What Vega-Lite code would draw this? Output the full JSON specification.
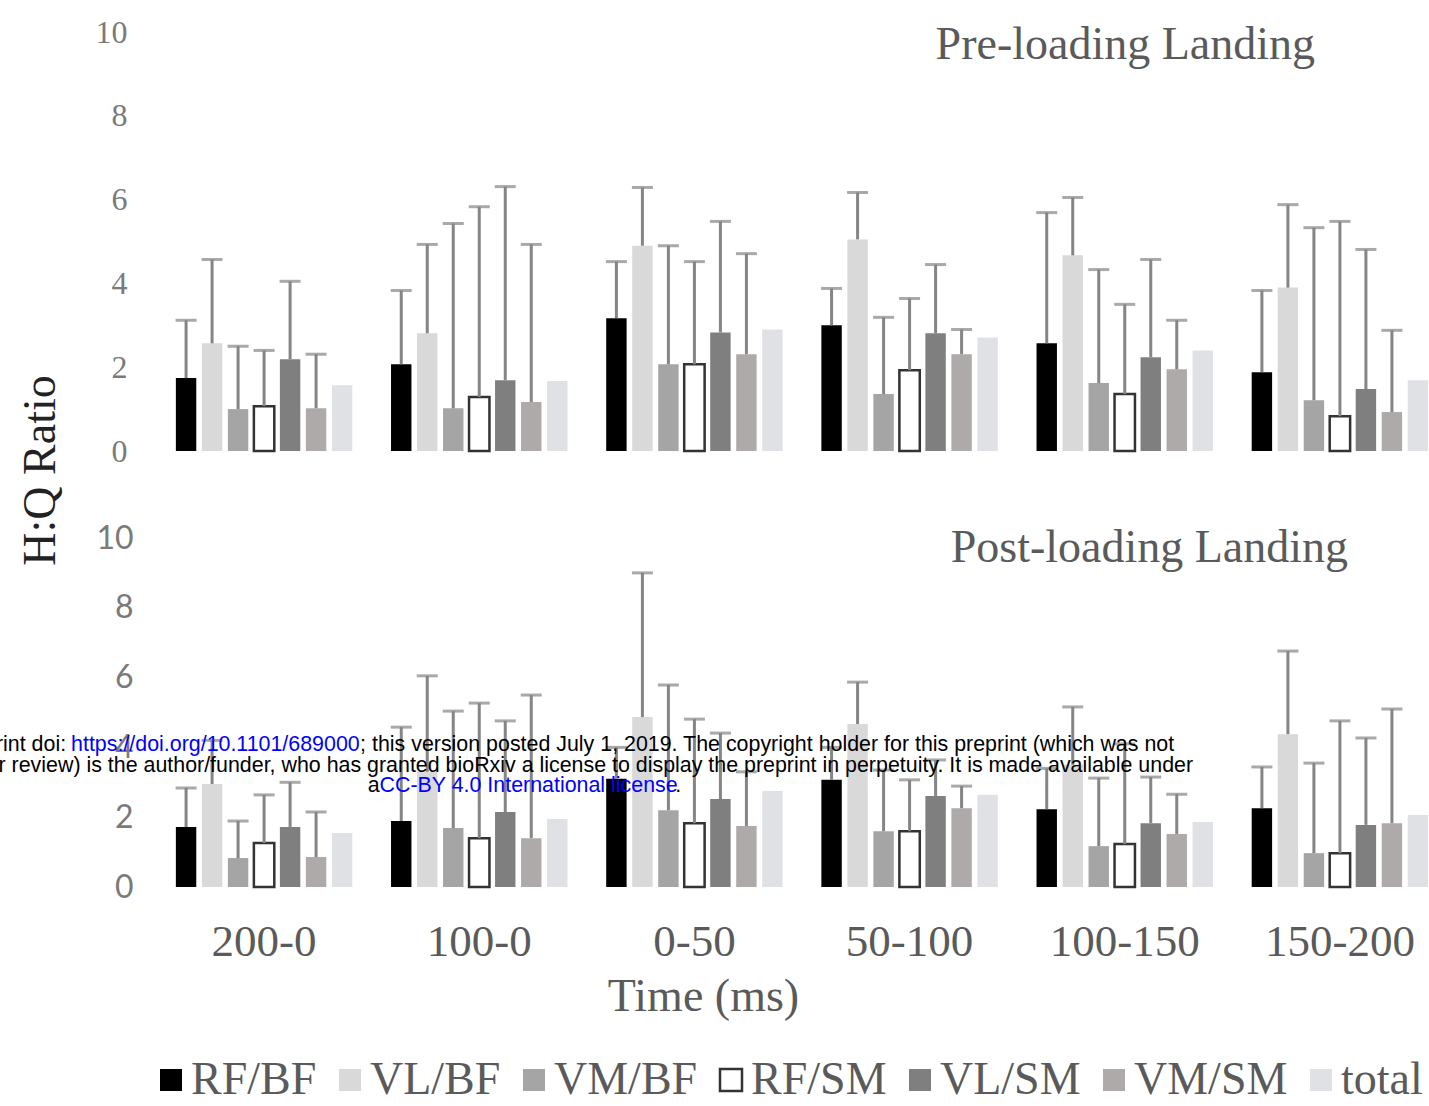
{
  "$schema": "https://vega.github.io/schema/vega-lite/v6.json",
  "autosize": {"type": "none"},
  "padding": {"left": 156.5, "top": 32, "right": 1272.5, "bottom": 1074},
  "background": "white",
  "config": {
    "view": {"stroke": null},
    "axis": {"grid": false, "domain": false, "ticks": false},
    "concat": {"spacing": 87}
  },
  "spacing": 87,
  "bounds": "flush",
  "datasets": {
    "pre": [
      {"time": "200-0", "series": "RF/BF", "value": 1.74, "err": 3.12},
      {"time": "200-0", "series": "VL/BF", "value": 2.57, "err": 4.57},
      {"time": "200-0", "series": "VM/BF", "value": 1.0, "err": 2.5},
      {"time": "200-0", "series": "RF/SM", "value": 1.07, "err": 2.4},
      {"time": "200-0", "series": "VL/SM", "value": 2.19, "err": 4.05},
      {"time": "200-0", "series": "VM/SM", "value": 1.02, "err": 2.31},
      {"time": "200-0", "series": "total", "value": 1.57, "err": null},
      {"time": "100-0", "series": "RF/BF", "value": 2.07, "err": 3.83},
      {"time": "100-0", "series": "VL/BF", "value": 2.81, "err": 4.93},
      {"time": "100-0", "series": "VM/BF", "value": 1.02, "err": 5.43},
      {"time": "100-0", "series": "RF/SM", "value": 1.29, "err": 5.83},
      {"time": "100-0", "series": "VL/SM", "value": 1.69, "err": 6.31},
      {"time": "100-0", "series": "VM/SM", "value": 1.17, "err": 4.93},
      {"time": "100-0", "series": "total", "value": 1.67, "err": null},
      {"time": "0-50", "series": "RF/BF", "value": 3.17, "err": 4.52},
      {"time": "0-50", "series": "VL/BF", "value": 4.9, "err": 6.29},
      {"time": "0-50", "series": "VM/BF", "value": 2.07, "err": 4.9},
      {"time": "0-50", "series": "RF/SM", "value": 2.07, "err": 4.52},
      {"time": "0-50", "series": "VL/SM", "value": 2.83, "err": 5.48},
      {"time": "0-50", "series": "VM/SM", "value": 2.31, "err": 4.71},
      {"time": "0-50", "series": "total", "value": 2.9, "err": null},
      {"time": "50-100", "series": "RF/BF", "value": 3.0, "err": 3.88},
      {"time": "50-100", "series": "VL/BF", "value": 5.05, "err": 6.17},
      {"time": "50-100", "series": "VM/BF", "value": 1.36, "err": 3.19},
      {"time": "50-100", "series": "RF/SM", "value": 1.93, "err": 3.64},
      {"time": "50-100", "series": "VL/SM", "value": 2.81, "err": 4.45},
      {"time": "50-100", "series": "VM/SM", "value": 2.31, "err": 2.9},
      {"time": "50-100", "series": "total", "value": 2.71, "err": null},
      {"time": "100-150", "series": "RF/BF", "value": 2.57, "err": 5.69},
      {"time": "100-150", "series": "VL/BF", "value": 4.67, "err": 6.05},
      {"time": "100-150", "series": "VM/BF", "value": 1.62, "err": 4.33},
      {"time": "100-150", "series": "RF/SM", "value": 1.36, "err": 3.5},
      {"time": "100-150", "series": "VL/SM", "value": 2.24, "err": 4.57},
      {"time": "100-150", "series": "VM/SM", "value": 1.95, "err": 3.12},
      {"time": "100-150", "series": "total", "value": 2.4, "err": null},
      {"time": "150-200", "series": "RF/BF", "value": 1.88, "err": 3.83},
      {"time": "150-200", "series": "VL/BF", "value": 3.9, "err": 5.88},
      {"time": "150-200", "series": "VM/BF", "value": 1.21, "err": 5.33},
      {"time": "150-200", "series": "RF/SM", "value": 0.83, "err": 5.48},
      {"time": "150-200", "series": "VL/SM", "value": 1.48, "err": 4.81},
      {"time": "150-200", "series": "VM/SM", "value": 0.93, "err": 2.88},
      {"time": "150-200", "series": "total", "value": 1.69, "err": null}
    ],
    "post": [
      {"time": "200-0", "series": "RF/BF", "value": 1.72, "err": 2.84},
      {"time": "200-0", "series": "VL/BF", "value": 2.95, "err": 4.2},
      {"time": "200-0", "series": "VM/BF", "value": 0.83, "err": 1.89},
      {"time": "200-0", "series": "RF/SM", "value": 1.26, "err": 2.64},
      {"time": "200-0", "series": "VL/SM", "value": 1.72, "err": 3.0},
      {"time": "200-0", "series": "VM/SM", "value": 0.86, "err": 2.15},
      {"time": "200-0", "series": "total", "value": 1.55, "err": null},
      {"time": "100-0", "series": "RF/BF", "value": 1.89, "err": 4.58},
      {"time": "100-0", "series": "VL/BF", "value": 3.3, "err": 6.05},
      {"time": "100-0", "series": "VM/BF", "value": 1.69, "err": 5.04},
      {"time": "100-0", "series": "RF/SM", "value": 1.4, "err": 5.27},
      {"time": "100-0", "series": "VL/SM", "value": 2.15, "err": 4.76},
      {"time": "100-0", "series": "VM/SM", "value": 1.4, "err": 5.5},
      {"time": "100-0", "series": "total", "value": 1.95, "err": null},
      {"time": "0-50", "series": "RF/BF", "value": 3.1, "err": 4.0},
      {"time": "0-50", "series": "VL/BF", "value": 4.87, "err": 9.0},
      {"time": "0-50", "series": "VM/BF", "value": 2.2, "err": 5.79},
      {"time": "0-50", "series": "RF/SM", "value": 1.83, "err": 4.81},
      {"time": "0-50", "series": "VL/SM", "value": 2.52, "err": 4.41},
      {"time": "0-50", "series": "VM/SM", "value": 1.75, "err": 3.3},
      {"time": "0-50", "series": "total", "value": 2.75, "err": null},
      {"time": "50-100", "series": "RF/BF", "value": 3.07, "err": 4.0},
      {"time": "50-100", "series": "VL/BF", "value": 4.67, "err": 5.87},
      {"time": "50-100", "series": "VM/BF", "value": 1.6, "err": 3.35},
      {"time": "50-100", "series": "RF/SM", "value": 1.6, "err": 3.07},
      {"time": "50-100", "series": "VL/SM", "value": 2.61, "err": 3.64},
      {"time": "50-100", "series": "VM/SM", "value": 2.26, "err": 2.89},
      {"time": "50-100", "series": "total", "value": 2.64, "err": null},
      {"time": "100-150", "series": "RF/BF", "value": 2.23, "err": 3.4},
      {"time": "100-150", "series": "VL/BF", "value": 3.5, "err": 5.16},
      {"time": "100-150", "series": "VM/BF", "value": 1.17, "err": 3.12},
      {"time": "100-150", "series": "RF/SM", "value": 1.23, "err": 4.1},
      {"time": "100-150", "series": "VL/SM", "value": 1.83, "err": 3.15},
      {"time": "100-150", "series": "VM/SM", "value": 1.52, "err": 2.66},
      {"time": "100-150", "series": "total", "value": 1.86, "err": null},
      {"time": "150-200", "series": "RF/BF", "value": 2.26, "err": 3.44},
      {"time": "150-200", "series": "VL/BF", "value": 4.38, "err": 6.76},
      {"time": "150-200", "series": "VM/BF", "value": 0.97, "err": 3.55},
      {"time": "150-200", "series": "RF/SM", "value": 0.97, "err": 4.76},
      {"time": "150-200", "series": "VL/SM", "value": 1.78, "err": 4.27},
      {"time": "150-200", "series": "VM/SM", "value": 1.83, "err": 5.1},
      {"time": "150-200", "series": "total", "value": 2.06, "err": null}
    ]
  },
  "vconcat": [
    {
      "width": 1291,
      "height": 419,
      "title": {"text": "Pre-loading Landing", "orient": "top", "anchor": "end", "frame": "group", "offset": 0, "dx": -132.5, "dy": 89, "baseline": "alphabetic", "font": "Liberation Serif", "fontSize": 46, "fontWeight": "normal", "color": "#5a5a5a"},
      "data": {"name": "pre"},
      "encoding": {
        "x": {"field": "time", "type": "nominal", "scale": {"domain": ["200-0", "100-0", "0-50", "50-100", "100-150", "150-200"], "paddingInner": 0.18, "paddingOuter": 0.09}, "axis": null},
        "xOffset": {"field": "series", "type": "nominal", "scale": {"domain": ["RF/BF", "VL/BF", "VM/BF", "RF/SM", "VL/SM", "VM/SM", "total"], "paddingInner": 0.215, "paddingOuter": 0}}
      },
      "layer": [
        {
          "mark": {"type": "bar", "strokeWidth": 2.5},
          "encoding": {
            "y": {"field": "value", "type": "quantitative", "title": "H:Q Ratio", "scale": {"domain": [0, 10], "nice": false},
              "axis": {"values": [0, 2, 4, 6, 8, 10], "labelFont": "Liberation Serif", "labelFontSize": 32, "labelColor": "#7a7a7a", "labelPadding": 29.5,
                "titleFont": "Liberation Serif", "titleFontSize": 46, "titleFontWeight": "normal", "titleColor": "#222222", "titleX": -116.5, "titleY": 438, "titleAngle": -90, "titleBaseline": "middle", "titleAlign": "center"}},
            "color": {"field": "series", "type": "nominal",
              "scale": {"domain": ["RF/BF", "VL/BF", "VM/BF", "RF/SM", "VL/SM", "VM/SM", "total"], "range": ["#000000", "#d9d9d9", "#a5a5a5", "#ffffff", "#7f7f7f", "#aeaaaa", "#dfe1e4"]},
              "legend": {"title": null, "orient": "none", "legendX": -8.5, "legendY": 1025, "direction": "horizontal", "columns": 7, "symbolType": "square", "symbolSize": 484, "symbolStrokeWidth": 2.5, "labelFont": "Liberation Serif", "labelFontSize": 46, "labelColor": "#5a5a5a", "labelOffset": -3, "columnPadding": 10, "labelLimit": 0}},
            "stroke": {"field": "series", "type": "nominal",
              "scale": {"domain": ["RF/BF", "VL/BF", "VM/BF", "RF/SM", "VL/SM", "VM/SM", "total"], "range": ["transparent", "transparent", "transparent", "#333333", "transparent", "transparent", "transparent"]},
              "legend": {"title": null, "orient": "none", "legendX": -8.5, "legendY": 1025, "direction": "horizontal", "columns": 7, "symbolType": "square", "symbolSize": 484, "symbolStrokeWidth": 2.5, "labelFont": "Liberation Serif", "labelFontSize": 46, "labelColor": "#5a5a5a", "labelOffset": -3, "columnPadding": 10, "labelLimit": 0}}
          }
        },
        {
          "transform": [{"filter": "datum.err != null"}],
          "mark": {"type": "rule", "color": "#858585", "strokeWidth": 3},
          "encoding": {"y": {"field": "value", "type": "quantitative", "title": "H:Q Ratio"}, "y2": {"field": "err"}}
        },
        {
          "transform": [{"filter": "datum.err != null"}],
          "mark": {"type": "tick", "color": "#858585", "thickness": 3, "size": 21},
          "encoding": {"y": {"field": "err", "type": "quantitative", "title": "H:Q Ratio"}}
        }
      ]
    },
    {
      "width": 1291,
      "height": 349,
      "title": {"text": "Post-loading Landing", "orient": "top", "anchor": "end", "frame": "group", "offset": 0, "dx": -99.5, "dy": 86, "baseline": "alphabetic", "font": "Liberation Serif", "fontSize": 46, "fontWeight": "normal", "color": "#5a5a5a"},
      "layer": [
        {
          "data": {"name": "post"},
          "encoding": {
            "x": {"field": "time", "type": "nominal", "scale": {"domain": ["200-0", "100-0", "0-50", "50-100", "100-150", "150-200"], "paddingInner": 0.18, "paddingOuter": 0.09},
              "axis": {"title": "Time (ms)", "labelAngle": 0, "labelFont": "Liberation Serif", "labelFontSize": 45, "labelColor": "#5a5a5a", "labelPadding": 32,
                "titleFont": "Liberation Serif", "titleFontSize": 46, "titleFontWeight": "normal", "titleColor": "#5a5a5a", "titleX": 546.5, "titleY": 123, "titleBaseline": "alphabetic", "titleAlign": "center"}},
            "xOffset": {"field": "series", "type": "nominal", "scale": {"domain": ["RF/BF", "VL/BF", "VM/BF", "RF/SM", "VL/SM", "VM/SM", "total"], "paddingInner": 0.215, "paddingOuter": 0}}
          },
          "layer": [
            {
              "mark": {"type": "bar", "strokeWidth": 2.5},
              "encoding": {
                "y": {"field": "value", "type": "quantitative", "title": null, "scale": {"domain": [0, 10], "nice": false},
                  "axis": {"values": [0, 2, 4, 6, 8, 10], "labelFont": "Lato", "labelFontSize": 32, "labelColor": "#7a7a7a", "labelPadding": 23.5, "title": null}},
                "color": {"field": "series", "type": "nominal"},
                "stroke": {"field": "series", "type": "nominal"}
              }
            },
            {
              "transform": [{"filter": "datum.err != null"}],
              "mark": {"type": "rule", "color": "#858585", "strokeWidth": 3},
              "encoding": {"y": {"field": "value", "type": "quantitative", "title": null}, "y2": {"field": "err"}}
            },
            {
              "transform": [{"filter": "datum.err != null"}],
              "mark": {"type": "tick", "color": "#858585", "thickness": 3, "size": 21},
              "encoding": {"y": {"field": "err", "type": "quantitative", "title": null}}
            }
          ]
        },
        {
          "data": {"values": [{}]},
          "mark": {"type": "text", "text": "bioRxiv preprint doi:", "font": "Liberation Sans", "fontSize": 21.4, "color": "#000000", "align": "right", "baseline": "middle", "dx": -198},
          "encoding": {"x": {"datum": "200-0", "type": "nominal"}, "y": {"datum": 4.08, "type": "quantitative"}}
        },
        {
          "data": {"values": [{}]},
          "mark": {"type": "text", "text": "https://doi.org/10.1101/689000", "font": "Liberation Sans", "fontSize": 21.4, "color": "#0000ff", "align": "left", "baseline": "middle", "dx": -193},
          "encoding": {"x": {"datum": "200-0", "type": "nominal"}, "y": {"datum": 4.08, "type": "quantitative"}}
        },
        {
          "data": {"values": [{}]},
          "mark": {"type": "text", "text": "; this version posted July 1, 2019. The copyright holder for this preprint (which was not", "font": "Liberation Sans", "fontSize": 21.4, "color": "#000000", "align": "left", "baseline": "middle", "dx": 96},
          "encoding": {"x": {"datum": "200-0", "type": "nominal"}, "y": {"datum": 4.08, "type": "quantitative"}}
        },
        {
          "data": {"values": [{}]},
          "mark": {"type": "text", "text": "certified by peer review) is the author/funder, who has granted bioRxiv a license to display the preprint in perpetuity. It is made available under", "font": "Liberation Sans", "fontSize": 21.4, "color": "#000000", "align": "right", "baseline": "middle", "dx": 929},
          "encoding": {"x": {"datum": "200-0", "type": "nominal"}, "y": {"datum": 3.48, "type": "quantitative"}}
        },
        {
          "data": {"values": [{}]},
          "mark": {"type": "text", "text": "a", "font": "Liberation Sans", "fontSize": 21.4, "color": "#000000", "align": "right", "baseline": "middle", "dx": 115.5},
          "encoding": {"x": {"datum": "200-0", "type": "nominal"}, "y": {"datum": 2.88, "type": "quantitative"}}
        },
        {
          "data": {"values": [{}]},
          "mark": {"type": "text", "text": "CC-BY 4.0 International license", "font": "Liberation Sans", "fontSize": 21.4, "color": "#0000ff", "align": "left", "baseline": "middle", "dx": 115.5},
          "encoding": {"x": {"datum": "200-0", "type": "nominal"}, "y": {"datum": 2.88, "type": "quantitative"}}
        },
        {
          "data": {"values": [{}]},
          "mark": {"type": "text", "text": ".", "font": "Liberation Sans", "fontSize": 21.4, "color": "#000000", "align": "right", "baseline": "middle", "dx": 417},
          "encoding": {"x": {"datum": "200-0", "type": "nominal"}, "y": {"datum": 2.88, "type": "quantitative"}}
        }
      ]
    }
  ]
}
